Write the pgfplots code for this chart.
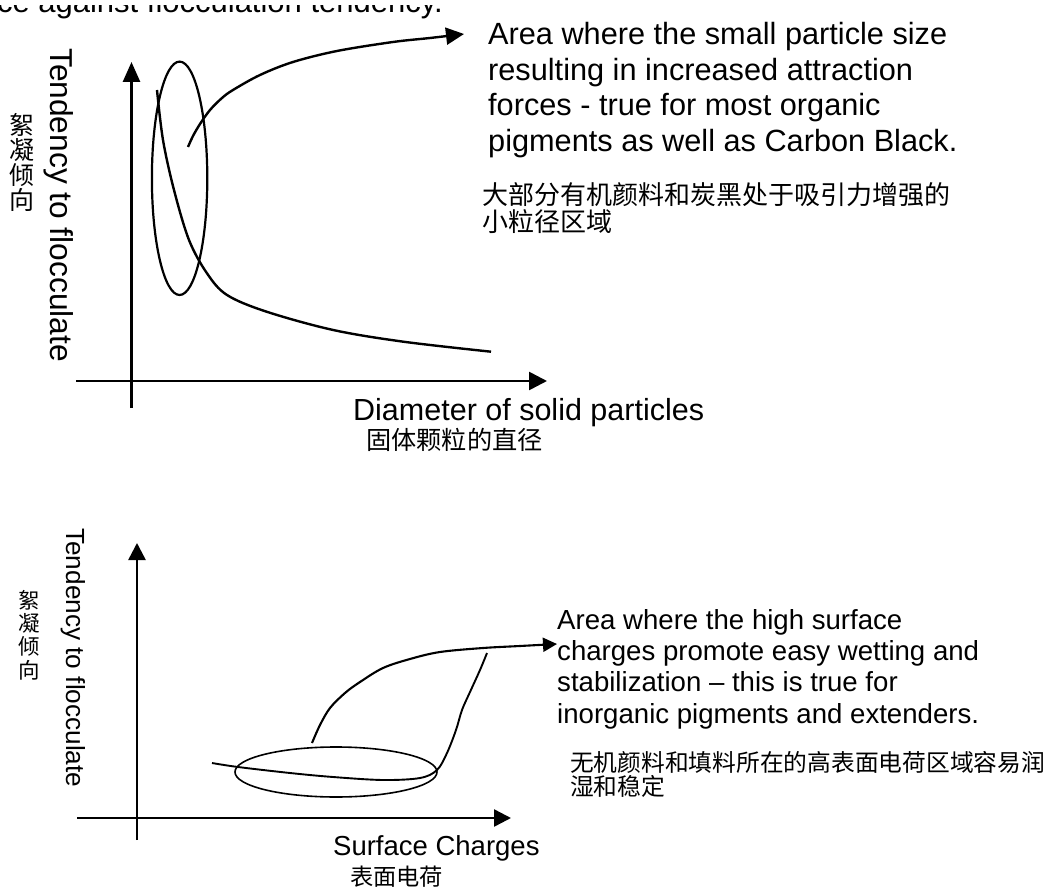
\documentclass[border=0pt]{standalone}
\usepackage{pgfplots}
\pgfplotsset{compat=1.18}
\usetikzlibrary{arrows.meta}
\usepackage{fontspec}
\setmainfont{Liberation Sans}
\newfontfamily\cjk{Noto Sans CJK SC}
\begin{document}
\begin{tikzpicture}
\begin{axis}[
  scale only axis, width=1049pt, height=890pt,
  xmin=0, xmax=1049, ymin=0, ymax=890, y dir=reverse,
  hide axis, clip=false,
]
% ---------- top chart: axes ----------
\addplot[black, line width=2.7pt, -{Triangle[length=20pt,width=17pt]}] coordinates {(131.5,408) (131.5,62)};
\addplot[black, line width=2.7pt, -{Triangle[length=18pt,width=18pt]}] coordinates {(76,381) (547,381)};
% descending curve
\addplot[black, line width=2.4pt, smooth, tension=0.55] coordinates {
 (157,90) (163,140) (174,190) (189,240) (207,273.3) (227,295)
 (266.6,311.7) (333.2,330) (403.4,341.7) (491,351.7)};
% arrow curve
\addplot[black, line width=2.4pt, smooth, tension=0.55, -{Triangle[length=18pt,width=17pt]}] coordinates {
 (188,147) (193,136) (200,124) (210,110) (222,98) (233,90) (260,75) (293,62)
 (337,51) (393,42) (430,38) (464,34)};
% ellipse
\draw[black, line width=2.2pt] (axis cs:179.6,178.3) ellipse [x radius=27.7, y radius=116.7];

% ---------- bottom chart: axes ----------
\addplot[black, line width=2.5pt, -{Triangle[length=17pt,width=17pt]}] coordinates {(137,840) (137,543)};
\addplot[black, line width=2.5pt, -{Triangle[length=17pt,width=17pt]}] coordinates {(77,818) (511,818)};
% curve through ellipse
\addplot[black, line width=1.9pt, smooth, tension=0.55] coordinates {
 (212,763) (238,767) (290,773) (333,777) (383,780) (420,778) (437,770)
 (447,753) (456,730) (462,710) (470,692) (480,670) (487,653)};
% arrow curve
\addplot[black, line width=2.1pt, smooth, tension=0.55, -{Triangle[length=14pt,width=14pt]}] coordinates {
 (312,743) (320,725) (330,708) (345,693) (360,682) (383,668) (410,659)
 (440,652) (483,648) (520,646) (557,644)};
\draw[black, line width=1.6pt] (axis cs:336,772) ellipse [x radius=101, y radius=25];

% ---------- texts ----------
\node[anchor=base east, inner sep=0, font=\fontsize{31}{36}\selectfont] at (axis cs:443,13) {resistance against flocculation tendency.};
\fill[white] (axis cs:0,-5) rectangle (axis cs:470,5);

\node[anchor=base west, inner sep=0, font=\fontsize{30.7}{36}\selectfont] at (axis cs:488,45) {Area where the small particle size};
\node[anchor=base west, inner sep=0, font=\fontsize{30.7}{36}\selectfont] at (axis cs:488,80.5) {resulting in increased attraction};
\node[anchor=base west, inner sep=0, font=\fontsize{30.7}{36}\selectfont] at (axis cs:488,116) {forces - true for most organic};
\node[anchor=base west, inner sep=0, font=\fontsize{30.7}{36}\selectfont] at (axis cs:488,151.5) {pigments as well as Carbon Black.};
\node[anchor=base west, inner sep=0, font=\cjk\fontsize{26}{28}\selectfont] at (axis cs:482,205) {大部分有机颜料和炭黑处于吸引力增强的};
\node[anchor=base west, inner sep=0, font=\cjk\fontsize{26}{28}\selectfont] at (axis cs:482,232) {小粒径区域};

\node[anchor=base west, inner sep=0, rotate=-90, font=\fontsize{31.7}{36}\selectfont] at (axis cs:51,48) {Tendency to flocculate};
\node[inner sep=0, align=center, font=\cjk\fontsize{25}{25}\selectfont] at (axis cs:22.5,162) {絮\\凝\\倾\\向};

\node[anchor=base west, inner sep=0, font=\fontsize{30.5}{36}\selectfont] at (axis cs:353,420) {Diameter of solid particles};
\node[anchor=base west, inner sep=0, font=\cjk\fontsize{25.2}{28}\selectfont] at (axis cs:366,449) {固体颗粒的直径};

\node[anchor=base west, inner sep=0, font=\fontsize{27.6}{31}\selectfont] at (axis cs:557,629) {Area where the high surface};
\node[anchor=base west, inner sep=0, font=\fontsize{27.6}{31}\selectfont] at (axis cs:557,660) {charges promote easy wetting and};
\node[anchor=base west, inner sep=0, font=\fontsize{27.6}{31}\selectfont] at (axis cs:557,691.5) {stabilization – this is true for};
\node[anchor=base west, inner sep=0, font=\fontsize{27.6}{31}\selectfont] at (axis cs:557,723) {inorganic pigments and extenders.};
\node[anchor=base west, inner sep=0, font=\cjk\fontsize{23.75}{26}\selectfont] at (axis cs:570,771) {无机颜料和填料所在的高表面电荷区域容易润};
\node[anchor=base west, inner sep=0, font=\cjk\fontsize{23.75}{26}\selectfont] at (axis cs:570,795) {湿和稳定};

\node[anchor=base west, inner sep=0, rotate=-90, font=\fontsize{26.2}{30}\selectfont] at (axis cs:66,528) {Tendency to flocculate};
\node[inner sep=0, align=center, font=\cjk\fontsize{21.5}{23.3}\selectfont] at (axis cs:29,635) {絮\\凝\\倾\\向};

\node[anchor=base west, inner sep=0, font=\fontsize{27.5}{31}\selectfont] at (axis cs:333,855) {Surface Charges};
\node[anchor=base west, inner sep=0, font=\cjk\fontsize{23.25}{26}\selectfont] at (axis cs:350,885) {表面电荷};

\coordinate (SW) at (axis cs:0,890);
\coordinate (NE) at (axis cs:1049,0);
\end{axis}
\pgfresetboundingbox
\path[use as bounding box] (SW) rectangle (NE);
\end{tikzpicture}
\end{document}
